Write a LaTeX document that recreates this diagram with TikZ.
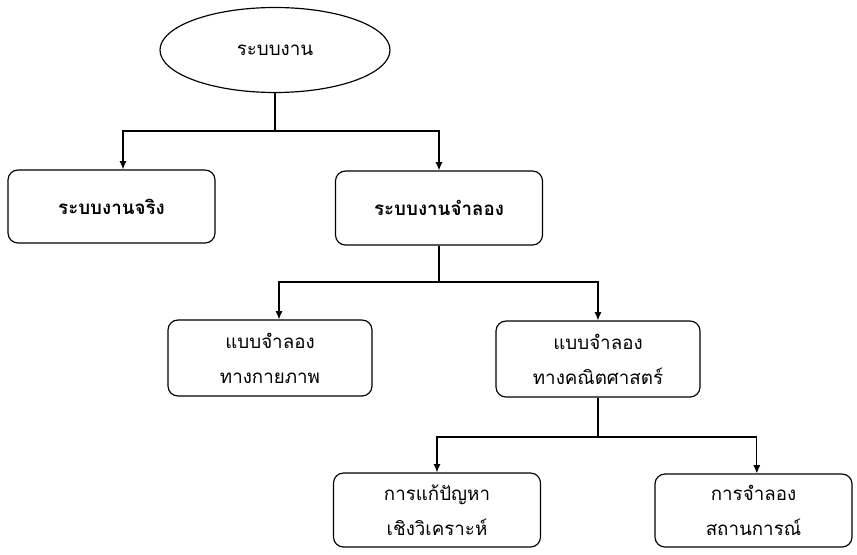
\documentclass[tikz,border=0pt]{standalone}
\usepackage{fontspec}
\usepackage{tikz}
\usetikzlibrary{shapes.geometric,arrows.meta}
\newfontfamily\thaifont[Script=Thai]{Loma}

\begin{document}
\begin{tikzpicture}[x=0.03cm,y=-0.03cm,->,>={Latex[length=7pt,width=6pt]},line width=1pt,
                box/.style={rectangle,rounded corners=0.3cm,draw=black,align=center,
                  font=\thaifont\fontsize{16}{30}\selectfont},
                top node/.style={ellipse,draw=black,minimum width=6.9cm,minimum height=2.55cm,
                  font=\thaifont\fontsize{16}{20}\selectfont}]

            \useasboundingbox (0,0) rectangle (857,555);

            \node[top node] (sys) at (275,50) {ระบบงาน};
            \node[box, font=\thaifont\bfseries\fontsize{16}{20}\selectfont,
                  minimum width=6.21cm, minimum height=2.19cm] (real) at (111.5,206.5) {ระบบงานจริง};
            \node[box, font=\thaifont\bfseries\fontsize{16}{20}\selectfont,
                  minimum width=6.21cm, minimum height=2.22cm] (sim) at (439,208) {ระบบงานจำลอง};
            \node[box, minimum width=6.12cm, minimum height=2.28cm] (phys) at (270,358) {แบบจำลอง\\ทางกายภาพ};
            \node[box, minimum width=6.12cm, minimum height=2.28cm] (math) at (598,359) {แบบจำลอง\\ทางคณิตศาสตร์};
            \node[box, minimum width=6.21cm, minimum height=2.22cm] (ana) at (437,510) {การแก้ปัญหา\\เชิงวิเคราะห์};
            \node[box, minimum width=5.91cm, minimum height=2.19cm] (scen) at (753.5,510.5) {การจำลอง\\สถานการณ์};

            \coordinate (j1) at (275,131);
            \coordinate (j2) at (439,282);
            \coordinate (j3) at (598,437);

            \draw[-] (sys) -- (j1);
            \draw (j1) -| ([xshift=0.345cm]real.north);
            \draw (j1) -| (sim.north);
            \draw[-] (sim) -- (j2);
            \draw (j2) -| ([xshift=0.27cm]phys.north);
            \draw (j2) -| (math.north);
            \draw[-] (math) -- (j3);
            \draw (j3) -| (ana.north);
            \draw (j3) -| ([xshift=0.1cm]scen.north);

        \end{tikzpicture}
\end{document}
